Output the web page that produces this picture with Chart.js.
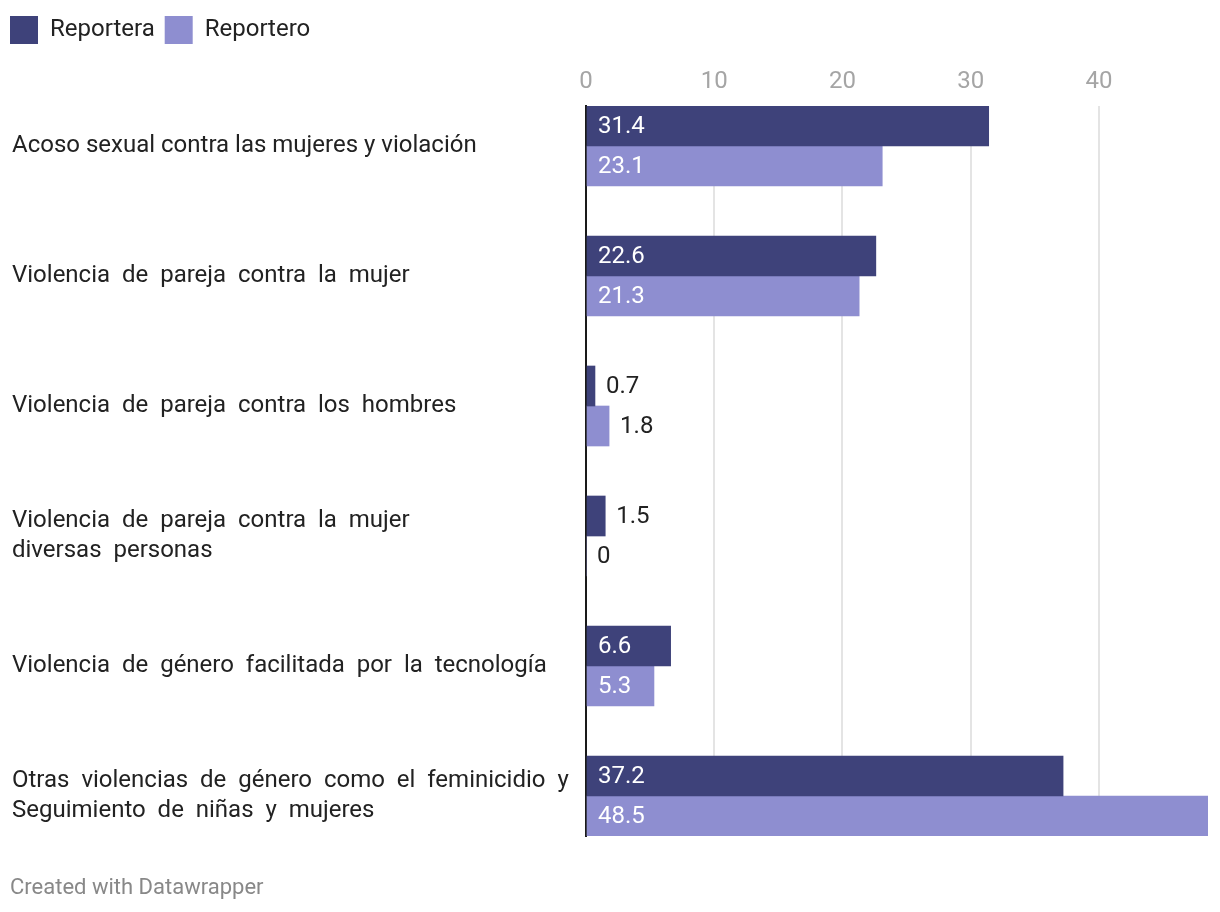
<!DOCTYPE html>
<html>
<head>
<meta charset="utf-8">
<script src="https://cdn.jsdelivr.net/npm/chart.js@4.4.1/dist/chart.umd.min.js"></script>
<style>
    body { margin: 0; background: #fff; }
    #wrap { position: relative; width: 1220px; height: 912px; }
    #footer {
        position: absolute; left: 10px; top: 874px;
        font-family: Roboto, sans-serif; font-size: 22px; color: #888;
    }
</style>
</head>
<body>
<div id="wrap">
    <canvas id="bar-chart" width="1220" height="912"></canvas>
    <div id="footer">Created with Datawrapper</div>
</div>
<script>
const categories = [
    ["Acoso sexual contra las mujeres y violación"],
    ["Violencia  de  pareja  contra  la  mujer"],
    ["Violencia  de  pareja  contra  los  hombres"],
    ["Violencia  de  pareja  contra  la  mujer", "diversas  personas"],
    ["Violencia  de  género  facilitada  por  la  tecnología"],
    ["Otras  violencias  de  género  como  el  feminicidio  y", "Seguimiento  de  niñas  y  mujeres"],
];
const reportera = [31.4, 22.6, 0.7, 1.5, 6.6, 37.2];
const reportero = [23.1, 21.3, 1.8, 0, 5.3, 48.5];
const xTicks = [0, 10, 20, 30, 40];

const FONT = "Roboto, sans-serif";

function toPoints(values) {
    return values.map(function (v, i) {
        return { x: v, y: i };
    });
}

const valueLabels = {
    id: "valueLabels",
    afterDatasetsDraw: function (chart) {
        var ctx = chart.ctx;
        ctx.save();
        ctx.font = "24px " + FONT;
        ctx.textAlign = "left";
        ctx.textBaseline = "middle";
        chart.data.datasets.forEach(function (ds, i) {
            var meta = chart.getDatasetMeta(i);
            meta.data.forEach(function (bar, j) {
                var text = String(ds.data[j].x);
                var w = ctx.measureText(text).width;
                var barW = bar.x - bar.base;
                if (barW > w + 22) {
                    ctx.fillStyle = "#ffffff";
                    ctx.fillText(text, bar.base + 11, bar.y + 1);
                } else {
                    ctx.fillStyle = "#222222";
                    ctx.fillText(text, bar.x + 11, bar.y + 1);
                }
            });
        });
        ctx.restore();
    },
};

// move category labels to x=12 while the legend stays at x=10
const shiftLabels = {
    id: "shiftLabels",
    afterLayout: function (chart) {
        chart.scales.y.left = 12;
    },
};

new Chart(document.getElementById("bar-chart"), {
    type: "bar",
    data: {
        datasets: [
            {
                label: "Reportera",
                data: toPoints(reportera),
                backgroundColor: "#3e427a",
                barThickness: 40,
            },
            {
                label: "Reportero",
                data: toPoints(reportero),
                backgroundColor: "#8e8ed0",
                barThickness: 40,
            },
        ],
    },
    options: {
        indexAxis: "y",
        responsive: false,
        animation: false,
        devicePixelRatio: 1,
        layout: {
            padding: { top: 6, left: 0, right: 12, bottom: 76 },
        },
        plugins: {
            legend: {
                position: "top",
                align: "start",
                labels: {
                    boxWidth: 28,
                    boxHeight: 28,
                    padding: 10,
                    color: "#222",
                    font: { family: FONT, size: 24 },
                },
            },
            tooltip: { enabled: false },
        },
        scales: {
            x: {
                position: "top",
                min: 0,
                max: 48.5,
                afterBuildTicks: function (scale) {
                    scale.ticks = xTicks.map(function (v) {
                        return { value: v };
                    });
                },
                afterFit: function (scale) {
                    scale.height = 52;
                },
                grid: { color: "#e4e4e4", lineWidth: 2, drawTicks: false },
                border: { display: false },
                ticks: {
                    color: "#a5a5a5",
                    padding: 10,
                    font: { family: FONT, size: 24 },
                },
            },
            y: {
                type: "linear",
                reverse: true,
                offset: false,
                min: -0.3077,
                max: 5.3077,
                z: 1,
                afterBuildTicks: function (scale) {
                    scale.ticks = categories.map(function (c, i) {
                        return { value: i };
                    });
                },
                afterFit: function (scale) {
                    scale.width = 586;
                },
                grid: { display: false, offset: false },
                border: { display: true, color: "#1a1a1a", width: 2 },
                ticks: {
                    crossAlign: "far",
                    color: "#222",
                    autoSkip: false,
                    font: { family: FONT, size: 24, lineHeight: 1.25 },
                    callback: function (value) {
                        return categories[value];
                    },
                },
            },
        },
    },
    plugins: [valueLabels, shiftLabels],
});
</script>
</body>
</html>
